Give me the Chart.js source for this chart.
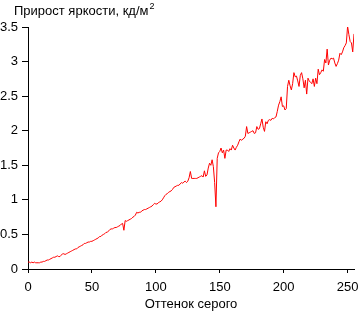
<!DOCTYPE html>
<html>
<head>
<meta charset="utf-8">
<script src="https://cdn.jsdelivr.net/npm/chart.js@4"></script>
<style>
  body { margin: 0; background: #fff; }
  canvas { display: block; }
</style>
</head>
<body>
<canvas id="chart" width="358" height="312"></canvas>
<script>
const chartTitle = 'Прирост яркости, кд/м';
const xTitle = 'Оттенок серого';
const xTicks = [0, 50, 100, 150, 200, 250];
const yTicks = [0, 0.5, 1, 1.5, 2, 2.5, 3, 3.5];

// brightness increment for each gray level 0..255
const brightness = [
    0.10, 0.10, 0.09, 0.10, 0.09, 0.10, 0.09, 0.09, 0.09, 0.09, 0.10, 0.10, 0.11,
    0.11, 0.12, 0.13, 0.13, 0.14, 0.15, 0.16, 0.17, 0.17, 0.18, 0.19, 0.18, 0.18,
    0.20, 0.22, 0.22, 0.21, 0.22, 0.23, 0.24, 0.25, 0.26, 0.27, 0.28, 0.29, 0.29,
    0.31, 0.32, 0.33, 0.34, 0.35, 0.37, 0.37, 0.38, 0.39, 0.39, 0.40, 0.40, 0.41,
    0.42, 0.43, 0.44, 0.45, 0.47, 0.47, 0.49, 0.50, 0.51, 0.53, 0.53, 0.55, 0.57,
    0.58, 0.58, 0.59, 0.60, 0.60, 0.61, 0.62, 0.63, 0.65, 0.66, 0.56, 0.70, 0.69,
    0.70, 0.71, 0.72, 0.73, 0.75, 0.76, 0.78, 0.82, 0.81, 0.82, 0.82, 0.84, 0.85,
    0.86, 0.86, 0.87, 0.88, 0.89, 0.90, 0.91, 0.93, 0.95, 0.94, 0.94, 0.96, 0.97,
    0.98, 1.00, 1.03, 1.06, 1.08, 1.09, 1.11, 1.12, 1.13, 1.15, 1.18, 1.19, 1.20,
    1.21, 1.21, 1.23, 1.25, 1.24, 1.26, 1.27, 1.25, 1.27, 1.32, 1.41, 1.31, 1.31,
    1.31, 1.31, 1.31, 1.32, 1.33, 1.34, 1.35, 1.33, 1.42, 1.34, 1.36, 1.46, 1.53,
    1.50, 1.58, 1.48, 1.25, 0.90, 1.60, 1.68, 1.70, 1.75, 1.68, 1.72, 1.60, 1.72,
    1.72, 1.70, 1.74, 1.72, 1.79, 1.75, 1.72, 1.76, 1.79, 1.84, 1.88, 1.86, 1.88,
    1.89, 1.92, 2.06, 1.96, 1.97, 1.98, 1.99, 2.00, 1.96, 1.97, 2.06, 2.02, 2.03,
    2.10, 2.17, 2.05, 1.99, 2.13, 2.10, 2.15, 2.16, 2.15, 2.18, 2.17, 2.19, 2.20,
    2.28, 2.37, 2.42, 2.49, 2.35, 2.36, 2.30, 2.32, 2.64, 2.73, 2.65, 2.59, 2.68,
    2.84, 2.78, 2.79, 2.72, 2.64, 2.80, 2.84, 2.75, 2.62, 2.73, 2.53, 2.76, 2.72,
    2.70, 2.68, 2.75, 2.64, 2.76, 2.68, 2.89, 2.81, 2.84, 2.88, 2.86, 3.03, 2.98,
    3.18, 2.95, 3.02, 3.05, 3.04, 3.05, 2.98, 2.93, 2.97, 3.02, 3.12, 3.10, 3.14,
    3.20, 3.23, 3.27, 3.51, 3.39, 3.29, 3.27, 3.14, 3.40
];

const points = brightness.map((v, i) => ({ x: i, y: v }));
const FONT = 'Arial, "Liberation Sans", sans-serif';

// title with superscript "2", drawn top-left
const titlePlugin = {
    id: 'topTitle',
    afterDraw(chart) {
        const ctx = chart.ctx;
        ctx.save();
        ctx.fillStyle = '#000';
        ctx.textBaseline = 'alphabetic';
        ctx.font = '13px ' + FONT;
        ctx.fillText(chartTitle, 14, 15);
        const w = ctx.measureText(chartTitle).width;
        ctx.font = '9px ' + FONT;
        ctx.fillText('2', 14 + w + 1, 9);
        ctx.restore();
    }
};

new Chart(document.getElementById('chart'), {
    type: 'line',
    data: {
        datasets: [{
            data: points,
            borderColor: '#ff0000',
            borderWidth: 1,
            pointRadius: 0,
            tension: 0,
            fill: false
        }]
    },
    options: {
        responsive: false,
        animation: false,
        layout: { padding: { top: 27, right: 4, left: 0, bottom: 0 } },
        plugins: {
            legend: { display: false },
            tooltip: { enabled: false }
        },
        scales: {
            x: {
                type: 'linear',
                min: 0,
                max: 255,
                afterBuildTicks: axis => { axis.ticks = xTicks.map(v => ({ value: v })); },
                afterFit: axis => {
                    axis.height = 43;
                    axis.paddingLeft = 0;
                    axis.paddingRight = 0;
                },
                grid: { drawOnChartArea: false, drawTicks: true, tickLength: 4, color: '#000' },
                border: { color: '#000', width: 1 },
                ticks: { color: '#000', font: { family: FONT, size: 13 }, padding: 7, maxRotation: 0 },
                title: { display: true, text: xTitle, color: '#000', font: { family: FONT, size: 13 }, padding: { top: 0, bottom: 0 } }
            },
            y: {
                min: 0,
                max: 3.5,
                afterBuildTicks: axis => { axis.ticks = yTicks.map(v => ({ value: v })); },
                afterFit: axis => {
                    axis.width = 28;
                    axis.paddingTop = 0;
                    axis.paddingBottom = 0;
                },
                grid: { drawOnChartArea: false, drawTicks: true, tickLength: 6, color: '#000' },
                border: { color: '#000', width: 1 },
                ticks: { color: '#000', font: { family: FONT, size: 13 }, padding: 4, callback: v => String(v) }
            }
        }
    },
    plugins: [titlePlugin]
});
</script>
</body>
</html>
